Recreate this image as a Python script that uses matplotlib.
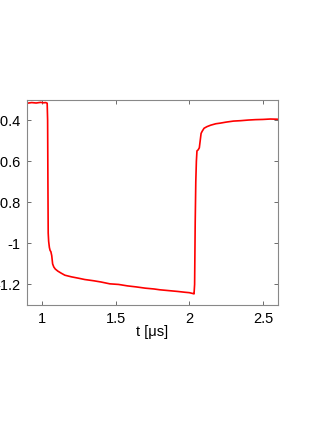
import matplotlib
matplotlib.use("Agg")
import matplotlib.pyplot as plt

plt.rcParams['font.family'] = ['Liberation Sans', 'DejaVu Sans']

# trace (t in us, signal)
t = [0.90, 0.93, 0.96, 0.99, 1.01, 1.025, 1.035, 1.038, 1.040, 1.042, 1.045,
     1.05, 1.055, 1.06, 1.066, 1.072, 1.08, 1.09, 1.107, 1.13, 1.155, 1.20,
     1.25, 1.29, 1.35, 1.40, 1.46, 1.52, 1.58, 1.64, 1.70, 1.76, 1.80, 1.86,
     1.92, 1.97, 2.00, 2.029, 2.032, 2.036, 2.040, 2.044, 2.048, 2.052, 2.06,
     2.068, 2.074, 2.08, 2.087, 2.10, 2.12, 2.145, 2.18, 2.21, 2.25, 2.30,
     2.35, 2.40, 2.45, 2.50, 2.55, 2.60]
v = [-0.318, -0.315, -0.317, -0.314, -0.316, -0.315, -0.318, -0.40, -0.70,
     -0.95, -0.99, -1.02, -1.035, -1.04, -1.06, -1.10, -1.115, -1.125, -1.135,
     -1.145, -1.155, -1.163, -1.170, -1.176, -1.182, -1.188, -1.197, -1.200,
     -1.207, -1.212, -1.218, -1.222, -1.226, -1.230, -1.234, -1.238, -1.240,
     -1.245, -1.246, -1.20, -0.90, -0.70, -0.60, -0.55, -0.545, -0.535, -0.50,
     -0.465, -0.455, -0.44, -0.432, -0.425, -0.418, -0.415, -0.410, -0.405,
     -0.403, -0.400, -0.398, -0.397, -0.395, -0.396]

xticks = [1, 1.5, 2, 2.5]
xlabels = ['1', '1.5', '2', '2.5']
yticks = [-1.2, -1.0, -0.8, -0.6, -0.4]
ylabels = ['-1.2', '-1', '-0.8', '-0.6', '-0.4']

fig = plt.figure(figsize=(3.32, 4.30), dpi=100)
ax = fig.add_axes([0.0822, 0.2907, 0.7542, 0.4779])
ax.plot(t, v, color='#ff0000', lw=1.2)
ax.set_xlim(0.9, 2.6)
ax.set_ylim(-1.3, -0.3)
ax.set_xticks(xticks)
ax.set_xticklabels(xlabels)
ax.set_yticks(yticks)
ax.set_yticklabels(ylabels)
ax.tick_params(direction='in', top=True, right=True, length=3, width=0.6,
               color='#555555', labelsize=10.5, pad=5)
for s in ax.spines.values():
    s.set_color('#888888')
    s.set_linewidth(0.8)
ax.set_xlabel('t [μs]', fontsize=10.5, labelpad=-1)

fig.savefig('out.png', dpi=100)
